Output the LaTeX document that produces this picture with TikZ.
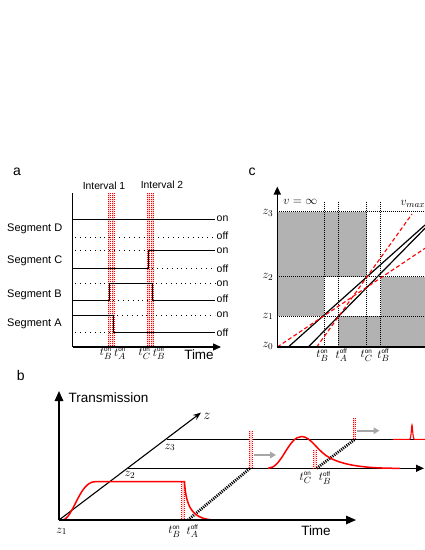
\documentclass[tikz,border=0pt]{standalone}
\usepackage{fontspec}
\setmainfont{Liberation Sans}
\usetikzlibrary{arrows.meta}
\newcommand{\tlab}[2]{$t_{#1}^{\mbox{\fontsize{6.3}{7}\selectfont #2}}$}
\begin{document}
\begin{tikzpicture}[x=1pt,y=-1pt,
  seglbl/.style={font=\fontsize{11}{13}\selectfont, inner sep=0pt, anchor=west},
  onoff/.style={font=\fontsize{10.5}{12}\selectfont, inner sep=0pt, anchor=west},
  panel/.style={font=\fontsize{14}{16}\selectfont, inner sep=0pt},
  tk/.style={font=\fontsize{13}{15}\selectfont, inner sep=0pt},
  zl/.style={font=\fontsize{13}{15}\selectfont, inner sep=0pt},
  bigtxt/.style={font=\fontsize{13.5}{16}\selectfont, inner sep=0pt},
  sig/.style={line width=0.9pt},
  adot/.style={line width=0.9pt, dash pattern=on 0.9pt off 4pt},
  gdot/.style={line width=0.8pt, dash pattern=on 0.8pt off 1.2pt},
  rband/.style={red!18, line width=2.4pt},
  rdot/.style={red, line width=0.5pt, dash pattern=on 1pt off 1pt},
  rdash/.style={red, line width=1.1pt, dash pattern=on 4pt off 2.5pt},
  axis/.style={line width=1.3pt},
  baxis/.style={line width=1.6pt},
  tri/.style={-{Triangle[length=8pt,width=7pt]}},
  bigtri/.style={-{Triangle[length=10pt,width=8.5pt]}},
  redcurve/.style={red, line width=1.5pt},
  hatch/.style={line width=2.8pt, dash pattern=on 1.1pt off 1.1pt},
  garrow/.style={black!35, line width=1.6pt, -{Triangle[length=6pt,width=6.5pt]}}
]
\useasboundingbox (0,0) rectangle (425,550);

%%%%%%%%%%%%%%%% Panel a
\node[panel] (la) at (17,172) {a};
\node[font=\fontsize{10.3}{12}\selectfont, inner sep=0pt] (int1) at (104,186) {Interval 1};
\node[font=\fontsize{10.3}{12}\selectfont, inner sep=0pt] (int2) at (162,185) {Interval 2};
% red interval markers
\foreach \x in {109.2,113.2,148.3,152.3}{
  \draw[rband] (\x,193) -- (\x,347);
  \draw[rdot] (\x-0.9,193) -- (\x-0.9,347);
  \draw[rdot] (\x+0.9,193) -- (\x+0.9,347);
}
% Segment D
\draw[sig] (72.5,219.5) -- (215,219.5);
\draw[adot] (75,237) -- (215,237);
% Segment C
\draw[sig] (72.5,268.3) -- (148.3,268.3) -- (148.3,250.7) -- (215,250.7);
\draw[adot] (75,250.7) -- (146,250.7);
\draw[adot] (152,268.3) -- (215,268.3);
% Segment B
\draw[sig] (72.5,300.7) -- (109.2,300.7) -- (109.2,283.3) -- (152.3,283.3) -- (152.3,300.7) -- (215,300.7);
\draw[adot] (75,283.3) -- (107,283.3);
\draw[adot] (156,283.3) -- (215,283.3);
\draw[adot] (113,300.7) -- (150,300.7);
% Segment A
\draw[sig] (72.5,315) -- (113.2,315) -- (113.2,332.7) -- (215,332.7);
\draw[adot] (75,332.7) -- (111,332.7);
\draw[adot] (117,315) -- (215,315);
% axes
\coordinate (aO) at (72.5,347);
\coordinate (aTop) at (72.5,193);
\coordinate (aEnd) at (221,347);
\draw[axis] (aTop) -- (aO);
\draw[axis, tri] (aO) -- (aEnd);
% labels
\node[seglbl] (sD) at (7,228.5) {Segment D};
\node[seglbl] (sC) at (7,260.5) {Segment C};
\node[seglbl] (sB) at (7,295) {Segment B};
\node[seglbl] (sA) at (7,324) {Segment A};
\node[onoff] (on1) at (216.5,219) {on};
\node[onoff] (off1) at (216.5,236) {off};
\node[onoff] (on2) at (216.5,250.7) {on};
\node[onoff] (off2) at (216.5,268.3) {off};
\node[onoff] (on3) at (216.5,283.3) {on};
\node[onoff] (off3) at (216.5,299) {off};
\node[onoff] (on4) at (216.5,315) {on};
\node[onoff] (off4) at (216.5,332.5) {off};
\node[tk] (ta1) at (106,353.5) {\tlab{B}{on}};
\node[tk] (ta2) at (120,353.5) {\tlab{A}{off}};
\node[tk] (ta3) at (144.5,353.5) {\tlab{C}{on}};
\node[tk] (ta4) at (159,353.5) {\tlab{B}{off}};
\node[bigtxt] (timea) at (199,355) {Time};

%%%%%%%%%%%%%%%% Panel c
\node[panel] (lc) at (252,172) {c};
\fill[black!30] (277.3,211.7) rectangle (366.7,276.7);
\fill[black!30] (277.3,276.7) rectangle (324.3,316);
\fill[black!30] (380.7,276.7) rectangle (425,316);
\fill[black!30] (338.3,316) rectangle (425,347);
\foreach \y in {211.7,276.7,316}{ \draw[gdot] (277.3,\y) -- (425,\y); }
\foreach \x in {324.3,338.3,366.7,380.7}{ \draw[gdot] (\x,201.7) -- (\x,347); }
% trajectories
\draw[line width=1.2pt] (288.3,347) -- (425,225);
\draw[line width=1.2pt] (308.3,347) -- (425,228.3);
\draw[rdash] (277.3,347) -- (425,248.3);
\draw[rdash] (316.7,347) -- (412,214);
% axes
\coordinate (cO) at (277.3,347);
\coordinate (cTop) at (277.3,186.5);
\coordinate (cEnd) at (425,347);
\draw[axis] (cO) -- (cEnd);
\draw[axis, tri] (cO) -- (cTop);
\node[zl, anchor=east] (z3c) at (273.5,213) {$z_3$};
\node[zl, anchor=east] (z2c) at (273.5,277) {$z_2$};
\node[zl, anchor=east] (z1c) at (273.5,316.5) {$z_1$};
\node[zl, anchor=east] (z0c) at (273.5,346) {$z_0$};
\node[zl] (vinf) at (300.3,201.7) {$v=\infty$};
\node[zl, anchor=west] (vmax) at (400.5,204) {$v_{max}$};
\node[tk] (tc1) at (322.5,355.5) {\tlab{B}{on}};
\node[tk] (tc2) at (341.5,355.5) {\tlab{A}{off}};
\node[tk] (tc3) at (366.5,355.5) {\tlab{C}{on}};
\node[tk] (tc4) at (383.5,355.5) {\tlab{B}{off}};

%%%%%%%%%%%%%%%% Panel b
\node[panel] (lb) at (20.7,375) {b};
\coordinate (bO) at (59,520);
\coordinate (bTop) at (59,391);
\coordinate (bEnd) at (356,520);
\coordinate (zTip) at (201,412.6);
\coordinate (z2s) at (128.3,468.3);
\coordinate (z2e) at (424,468.3);
\coordinate (z3s) at (166.7,439.3);
\coordinate (z3e) at (425,439.3);
% z3 line
\draw[line width=1.1pt] (z3s) -- (z3e);
% z2 line
\draw[line width=1.3pt, tri] (z2s) -- (z2e);
% z axis
\draw[line width=1.1pt, -{Stealth[length=8pt,width=6pt]}] (bO) -- (zTip);
% hatched propagation
\draw[hatch] (188,520) -- (250,468.3);
\draw[hatch] (316.7,468.3) -- (355,439.3);
% red markers
\foreach \x/\a/\b in {182.8/481.7/520, 250.6/431/468.3, 314.8/449.5/468.3, 354/418.3/439.3}{
  \draw[rband] (\x,\a) -- (\x,\b);
  \draw[rdot, line width=0.6pt] (\x-1.2,\a) -- (\x-1.2,\b);
  \draw[rdot, line width=0.6pt] (\x+1.2,\a) -- (\x+1.2,\b);
}
% gray arrows
\coordinate (ga1s) at (254,455); \coordinate (ga1e) at (276,455);
\coordinate (ga2s) at (357,430.7); \coordinate (ga2e) at (379.5,430.7);
\draw[garrow] (ga1s) -- (ga1e);
\draw[garrow] (ga2s) -- (ga2e);
% red curves
\draw[redcurve] (62,520) .. controls (73,520) and (79,481.7) .. (95,481.7) -- (184.5,481.7)
   .. controls (186,508) and (193,519.5) .. (215,520);
\draw[redcurve] (268,468.3) .. controls (282,468.3) and (288,436.5) .. (301.7,436.5)
   .. controls (311,436.5) and (318,452) .. (330,458)
   .. controls (345,465.5) and (365,468.3) .. (400,468.3);
\draw[red, line width=1.1pt] (393,439.3) -- (409.5,439.3) .. controls (411.3,439.3) and (411.5,425) .. (412,425)
   .. controls (412.5,425) and (412.7,439.3) .. (414.5,439.3) -- (425,439.3);
% main axes
\draw[baxis, bigtri] (bO) -- (bTop);
\draw[baxis, bigtri] (bO) -- (bEnd);
% labels
\node[bigtxt, anchor=west] (trans) at (68.5,397.5) {Transmission};
\node[bigtxt] (timeb) at (316,531) {Time};
\node[font=\fontsize{14}{16}\selectfont, inner sep=0pt] (zlab) at (207,416.5) {$z$};
\node[zl] (z1b) at (61.7,531.5) {$z_1$};
\node[zl] (z2b) at (130,475) {$z_2$};
\node[zl] (z3b) at (170,447.5) {$z_3$};
\node[tk] (tb1) at (174.5,531.5) {\tlab{B}{on}};
\node[tk] (tb2) at (192.5,531.5) {\tlab{A}{off}};
\node[tk] (tb3) at (305.5,478) {\tlab{C}{on}};
\node[tk] (tb4) at (325,478) {\tlab{B}{off}};
\end{tikzpicture}
\end{document}
